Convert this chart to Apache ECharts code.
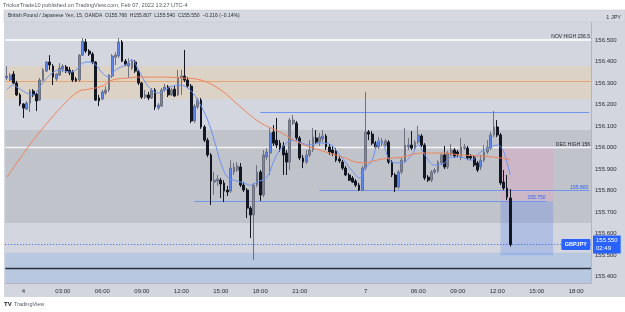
<!DOCTYPE html>
<html>
<head>
<meta charset="utf-8">
<script src="https://cdn.jsdelivr.net/npm/echarts@6/dist/echarts.min.js"></script>
<style>
  html, body { margin: 0; padding: 0; background: #fff; }
  #gbpjpy { width: 625px; height: 312px; }
</style>
</head>
<body>
<div id="gbpjpy"></div>
<script>
// GBPJPY 15m, OANDA
const slotCount = 178;
const tickIndex = [5, 17, 29, 41, 53, 65, 77, 89, 109, 125, 137, 149, 161, 173];
const tickText = ["4", "03:00", "06:00", "09:00", "12:00", "15:00", "18:00", "21:00", "7", "06:00", "09:00", "12:00", "15:00", "18:00"];
const priceTicks = [155.4, 155.5, 155.6, 155.7, 155.8, 155.9, 156.0, 156.1, 156.2, 156.3, 156.4, 156.5];

const opens = [
  156.324, 156.314, 156.342, 156.300, 156.245, 156.203, 156.179, 156.207, 156.263, 156.249,
  156.221, 156.314, 156.356, 156.398, 156.379, 156.319, 156.337, 156.365, 156.375, 156.361,
  156.351, 156.319, 156.314, 156.430, 156.491, 156.449, 156.435, 156.398, 156.231, 156.226,
  156.254, 156.268, 156.333, 156.421, 156.426, 156.491, 156.402, 156.379, 156.370, 156.398,
  156.356, 156.300, 156.235, 156.245, 156.231, 156.268, 156.184, 156.193, 156.268, 156.282,
  156.245, 156.272, 156.245, 156.324, 156.333, 156.314, 156.286, 156.124, 156.189, 156.221,
  156.096, 156.035, 155.966, 155.840, 155.845, 155.849, 155.836, 155.803, 155.798, 155.887,
  155.896, 155.910, 155.826, 155.803, 155.719, 155.687, 155.826, 155.887, 155.780, 155.956,
  155.975, 156.073, 156.035, 156.021, 156.008, 155.975, 155.933, 156.114, 156.114, 156.045,
  155.952, 155.933, 155.966, 155.989, 156.045, 156.026, 156.040, 156.054, 156.003, 155.989,
  155.984, 155.947, 155.933, 155.905, 155.873, 155.859, 155.845, 155.826, 155.803, 155.905,
  156.073, 156.063, 156.021, 156.003, 156.021, 156.012, 156.026, 155.933, 155.873, 155.817,
  155.887, 155.938, 156.003, 156.012, 155.998, 156.026, 156.054, 156.012, 155.863, 155.849,
  155.887, 155.891, 155.929, 155.966, 155.910, 155.970, 155.989, 155.980, 155.952, 155.998,
  155.998, 155.961, 155.956, 155.929, 155.910, 155.942, 155.980, 155.998, 156.059, 156.096,
  156.059, 155.840, 155.812, 155.766
];
const closes = [
  156.333, 156.337, 156.300, 156.245, 156.203, 156.184, 156.207, 156.263, 156.245, 156.217,
  156.314, 156.361, 156.398, 156.384, 156.328, 156.342, 156.370, 156.379, 156.356, 156.347,
  156.314, 156.310, 156.430, 156.495, 156.449, 156.435, 156.398, 156.221, 156.217, 156.259,
  156.268, 156.337, 156.426, 156.430, 156.491, 156.402, 156.388, 156.393, 156.402, 156.356,
  156.300, 156.235, 156.245, 156.231, 156.268, 156.189, 156.198, 156.268, 156.282, 156.245,
  156.268, 156.240, 156.328, 156.333, 156.314, 156.286, 156.124, 156.193, 156.221, 156.096,
  156.035, 155.966, 155.845, 155.849, 155.854, 155.831, 155.798, 155.794, 155.905, 155.910,
  155.915, 155.826, 155.803, 155.719, 155.687, 155.826, 155.887, 155.780, 155.966, 155.980,
  156.068, 156.021, 156.012, 155.998, 155.966, 155.933, 156.128, 156.128, 156.045, 155.952,
  155.933, 155.966, 155.989, 156.049, 156.026, 156.049, 156.054, 156.003, 155.980, 155.975,
  155.942, 155.938, 155.905, 155.873, 155.849, 155.840, 155.826, 155.803, 155.905, 156.073,
  156.063, 156.021, 156.003, 156.031, 156.031, 156.031, 155.933, 155.873, 155.817, 155.887,
  155.942, 156.012, 156.012, 155.998, 156.026, 156.059, 156.012, 155.859, 155.849, 155.887,
  155.896, 155.933, 155.966, 155.910, 155.975, 155.989, 155.961, 155.966, 156.003, 156.003,
  155.952, 155.952, 155.919, 155.896, 155.942, 155.980, 156.003, 156.059, 156.096, 156.059,
  155.836, 155.812, 155.770, 155.550
];
const lows = [
  156.314, 156.310, 156.296, 156.240, 156.193, 156.138, 156.175, 156.166, 156.235, 156.170,
  156.217, 156.310, 156.351, 156.361, 156.291, 156.310, 156.333, 156.351, 156.347, 156.337,
  156.305, 156.305, 156.305, 156.426, 156.440, 156.426, 156.388, 156.217, 156.193, 156.221,
  156.245, 156.259, 156.324, 156.384, 156.416, 156.398, 156.379, 156.324, 156.361, 156.347,
  156.291, 156.226, 156.226, 156.221, 156.226, 156.175, 156.175, 156.189, 156.259, 156.235,
  156.240, 156.235, 156.240, 156.245, 156.305, 156.277, 156.114, 156.114, 156.179, 156.087,
  156.026, 155.956, 155.733, 155.780, 155.822, 155.766, 155.747, 155.775, 155.789, 155.873,
  155.887, 155.817, 155.794, 155.673, 155.580, 155.478, 155.817, 155.752, 155.770, 155.942,
  155.873, 156.008, 155.998, 155.980, 155.873, 155.873, 155.896, 156.105, 156.035, 155.942,
  155.905, 155.924, 155.956, 155.980, 156.017, 156.008, 156.026, 155.989, 155.966, 155.961,
  155.933, 155.929, 155.896, 155.868, 155.845, 155.836, 155.817, 155.798, 155.798, 155.896,
  156.035, 156.012, 155.994, 155.994, 156.008, 156.003, 155.924, 155.863, 155.794, 155.808,
  155.877, 155.929, 155.989, 155.989, 155.989, 156.017, 156.003, 155.849, 155.840, 155.840,
  155.877, 155.882, 155.919, 155.901, 155.901, 155.961, 155.952, 155.956, 155.942, 155.989,
  155.942, 155.942, 155.910, 155.887, 155.896, 155.933, 155.970, 155.989, 156.049, 156.049,
  155.826, 155.803, 155.756, 155.540
];
const highs = [
  156.379, 156.347, 156.356, 156.310, 156.254, 156.207, 156.217, 156.272, 156.272, 156.259,
  156.324, 156.370, 156.402, 156.430, 156.388, 156.347, 156.393, 156.388, 156.384, 156.375,
  156.361, 156.328, 156.435, 156.509, 156.505, 156.458, 156.444, 156.402, 156.245, 156.268,
  156.286, 156.342, 156.435, 156.444, 156.509, 156.500, 156.412, 156.416, 156.412, 156.407,
  156.365, 156.305, 156.268, 156.259, 156.277, 156.277, 156.207, 156.277, 156.296, 156.291,
  156.277, 156.286, 156.361, 156.361, 156.454, 156.328, 156.296, 156.203, 156.231, 156.231,
  156.105, 156.045, 155.975, 155.887, 155.873, 155.859, 155.849, 155.822, 155.942, 155.929,
  155.933, 155.929, 155.840, 155.812, 155.728, 155.836, 155.919, 155.896, 155.989, 155.998,
  156.091, 156.105, 156.138, 156.035, 156.026, 155.989, 156.138, 156.152, 156.124, 156.054,
  155.966, 155.989, 156.035, 156.091, 156.082, 156.068, 156.082, 156.063, 156.017, 156.008,
  155.998, 155.961, 155.942, 155.915, 155.882, 155.868, 155.854, 155.836, 155.915, 156.259,
  156.082, 156.077, 156.031, 156.049, 156.045, 156.040, 156.035, 155.942, 155.882, 155.896,
  155.952, 156.091, 156.045, 156.077, 156.035, 156.101, 156.063, 156.021, 155.873, 155.896,
  155.905, 155.942, 155.975, 156.008, 155.984, 156.017, 155.998, 155.989, 156.045, 156.017,
  156.008, 155.970, 155.966, 155.938, 155.966, 156.012, 156.035, 156.073, 156.170, 156.128,
  156.068, 155.896, 155.873, 155.807
];

// moving averages, sampled along the drawn curves: [bar index, price]
const fastMa = [
  [0, 156.268], [2, 156.291], [3, 156.282], [6, 156.254], [8, 156.245], [10, 156.282],
  [13, 156.337], [16, 156.361], [19, 156.351], [21, 156.361], [23, 156.393], [25, 156.398],
  [27, 156.384], [29, 156.347], [31, 156.328], [33, 156.361], [36, 156.384], [38, 156.407],
  [40, 156.361], [42, 156.305], [44, 156.268], [46, 156.254], [49, 156.277], [52, 156.291],
  [55, 156.277], [58, 156.221], [61, 156.128], [63, 156.035], [65, 155.929], [67, 155.863],
  [69, 155.849], [72, 155.836], [74, 155.826], [76, 155.840], [79, 155.863], [81, 155.933],
  [83, 155.989], [87, 156.035], [89, 156.026], [92, 156.012], [95, 156.021], [98, 156.017],
  [100, 155.989], [103, 155.929], [106, 155.873], [107, 155.859], [109, 155.905], [111, 155.942],
  [113, 156.031], [114, 156.026], [117, 155.933], [120, 155.929], [123, 155.966], [125, 156.012],
  [127, 155.966], [130, 155.919], [133, 155.929], [135, 155.956], [138, 155.956], [141, 155.942],
  [144, 155.980], [147, 156.003], [149, 156.012], [151, 155.980], [152, 155.929], [153, 155.873]
];
const slowMa = [
  [0, 155.863], [8, 156.035], [13, 156.128], [18, 156.212], [22, 156.263], [25, 156.272],
  [29, 156.286], [32, 156.314], [37, 156.324], [41, 156.328], [47, 156.328], [53, 156.324],
  [59, 156.314], [65, 156.268], [71, 156.189], [77, 156.116], [83, 156.073], [89, 156.021],
  [95, 155.989], [102, 155.956], [108, 155.929], [114, 155.947], [120, 155.956], [126, 155.975],
  [132, 155.975], [138, 155.966], [144, 155.961], [150, 155.952], [153, 155.942]
];

const lastPrice = 155.550;
const font = "Liberation Sans, Arial, sans-serif";

let cats = [];
for (let i = 0; i < slotCount; i++) cats.push(String(i));
let candles = opens.map((o, i) => [o, closes[i], lows[i], highs[i]]);

function hline(value, color, width, type, text, textColor) {
  return {
    yAxis: value,
    lineStyle: { color: color, width: width, type: type || "solid" },
    label: text ? { show: true, position: "insideEndTop", formatter: text, color: textColor || "#1e222d", fontSize: 5, distance: 1, fontFamily: font } : { show: false }
  };
}
function segment(from, to, value, color, text) {
  return [
    { coord: [String(from), value], lineStyle: { color: color, width: 1, type: "solid" }, label: text ? { show: true, position: "insideEndTop", formatter: text, color: "#2962ff", fontSize: 5, distance: 1, fontFamily: font } : { show: false } },
    { coord: [String(to), value] }
  ];
}

let chart = echarts.init(document.getElementById("gbpjpy"));
let option = {
  animation: false,
  backgroundColor: "#d3d6de",
  textStyle: { fontFamily: font },
  grid: { left: 5.25, right: 34, top: 22, bottom: 29 },
  xAxis: {
    type: "category",
    data: cats,
    boundaryGap: true,
    axisLine: { show: true, lineStyle: { color: "#b2b5be" } },
    axisTick: { show: false },
    splitLine: { show: false },
    axisLabel: {
      interval: (idx) => tickIndex.indexOf(idx) >= 0,
      formatter: (v, idx) => {
        let k = tickIndex.indexOf(idx);
        return k >= 0 ? tickText[k] : "";
      },
      color: "#2a2e39",
      fontSize: 6,
      margin: 5
    }
  },
  yAxis: {
    type: "value",
    position: "right",
    min: 155.371,
    max: 156.584,
    splitLine: { show: false },
    axisLine: { show: true, lineStyle: { color: "#b2b5be" } },
    axisTick: { show: false },
    axisLabel: {
      customValues: priceTicks,
      formatter: (v) => v.toFixed(3),
      color: "#2a2e39",
      fontSize: 6,
      margin: 4
    }
  },
  series: [
    {
      // background zones and drawn levels
      name: "zones",
      type: "line",
      data: [],
      z: 1,
      silent: true,
      markArea: {
        silent: true,
        data: [
          [{ yAxis: 156.379, itemStyle: { color: "#dcd2c5" } }, { yAxis: 156.226 }],
          [{ yAxis: 156.082, itemStyle: { color: "#c1c3ca" } }, { yAxis: 155.650 }],
          [{ yAxis: 155.512, itemStyle: { color: "#b8c8e0" } }, { yAxis: 155.371 }],
          [{ xAxis: "150", yAxis: 156.0, itemStyle: { color: "#cdb6c6" } }, { xAxis: "166", yAxis: 155.75 }],
          [{ xAxis: "150", yAxis: 155.75, itemStyle: { color: "rgba(60,110,245,0.22)" } }, { xAxis: "166", yAxis: 155.50 }]
        ]
      },
      markLine: {
        silent: true,
        symbol: ["none", "none"],
        lineStyle: { type: "solid" },
        data: [
          hline(156.5, "#ffffff", 1.5, "solid", "NOV HIGH 156.5"),
          hline(156.0, "#f4f4f6", 1.3, "solid", "DEC HIGH 156"),
          hline(156.315, "#eaa56e", 1),
          hline(155.436, "#2a2e39", 1.3),
          segment(77, 177, 156.164, "#6f95f0"),
          segment(95, 177, 155.800, "#6f95f0", "155.800"),
          segment(57, 164, 155.750, "#6f95f0", "155.750"),
          {
            yAxis: lastPrice,
            lineStyle: { color: "#2962ff", width: 1, type: [1, 2] },
            label: {
              show: true, position: "end", distance: 2,
              formatter: "155.550\n02:49",
              backgroundColor: "#2962ff", color: "#ffffff",
              fontSize: 6, lineHeight: 8, padding: [1, 3, 1, 3]
            }
          }
        ]
      }
    },
    {
      name: "GBPJPY",
      type: "candlestick",
      data: candles,
      z: 5,
      barWidth: 2.3,
      itemStyle: {
        color: "#5e86f0",
        color0: "#131722",
        borderColor: "#6d7180",
        borderColor0: "#131722",
        borderWidth: 1
      }
    },
    {
      name: "fast",
      type: "line",
      data: fastMa,
      z: 6,
      smooth: 0.4,
      symbol: "none",
      lineStyle: { color: "#6a93f4", width: 1 }
    },
    {
      name: "slow",
      type: "line",
      data: slowMa,
      z: 6,
      smooth: 0.4,
      symbol: "none",
      lineStyle: { color: "#f08358", width: 1 }
    }
  ],
  graphic: [
    { type: "rect", z: 100, shape: { x: 0, y: 0, width: 625, height: 10 }, style: { fill: "#ffffff" } },
    { type: "rect", z: 100, shape: { x: 0, y: 0, width: 4, height: 312 }, style: { fill: "#ffffff" } },
    { type: "rect", z: 100, shape: { x: 0, y: 297, width: 625, height: 15 }, style: { fill: "#ffffff" } },
    { type: "rect", z: 100, shape: { x: 4, y: 10, width: 621, height: 12 }, style: { fill: "#d6d9e0", stroke: "#c4c7cf", lineWidth: 0.5 } },
    { type: "text", z: 101, x: 3, y: 5, style: { text: "TrickorTrade10 published on TradingView.com, Feb 07, 2022 13:27 UTC-4", fill: "#555a66", fontSize: 5.6, fontFamily: font, verticalAlign: "middle" } },
    { type: "text", z: 101, x: 8, y: 16, style: { text: "British Pound / Japanese Yen, 15, OANDA  O155.766  H155.807  L155.540  C155.550  \u22120.216 (\u22120.14%)", fill: "#2a2e39", fontSize: 5, fontFamily: font, verticalAlign: "middle" } },
    { type: "text", z: 101, x: 621, y: 17, style: { text: "1 JPY", fill: "#2a2e39", fontSize: 5.5, fontFamily: font, align: "right", verticalAlign: "middle" } },
    { type: "text", z: 101, x: 4, y: 304, style: { text: "TV", fill: "#131722", fontSize: 6, fontWeight: "bold", fontFamily: font, verticalAlign: "middle" } },
    { type: "text", z: 101, x: 14, y: 304, style: { text: "TradingView", fill: "#555a66", fontSize: 5.5, fontFamily: font, verticalAlign: "middle" } }
  ]
};
chart.setOption(option);

// "GBPJPY" tag next to the last price, placed through the price scale
let py = chart.convertToPixel({ yAxisIndex: 0 }, lastPrice);
let px = chart.convertToPixel({ xAxisIndex: 0 }, "177");
option.graphic.push(
  { type: "rect", z: 90, shape: { x: px - 28, y: py - 5.5, width: 29, height: 11, r: 1 }, style: { fill: "#2962ff" } },
  { type: "text", z: 91, x: px - 13.5, y: py, style: { text: "GBPJPY", fill: "#ffffff", fontSize: 5.5, fontWeight: "bold", fontFamily: font, align: "center", verticalAlign: "middle" } }
);
chart.setOption({ graphic: option.graphic });
</script>
</body>
</html>
